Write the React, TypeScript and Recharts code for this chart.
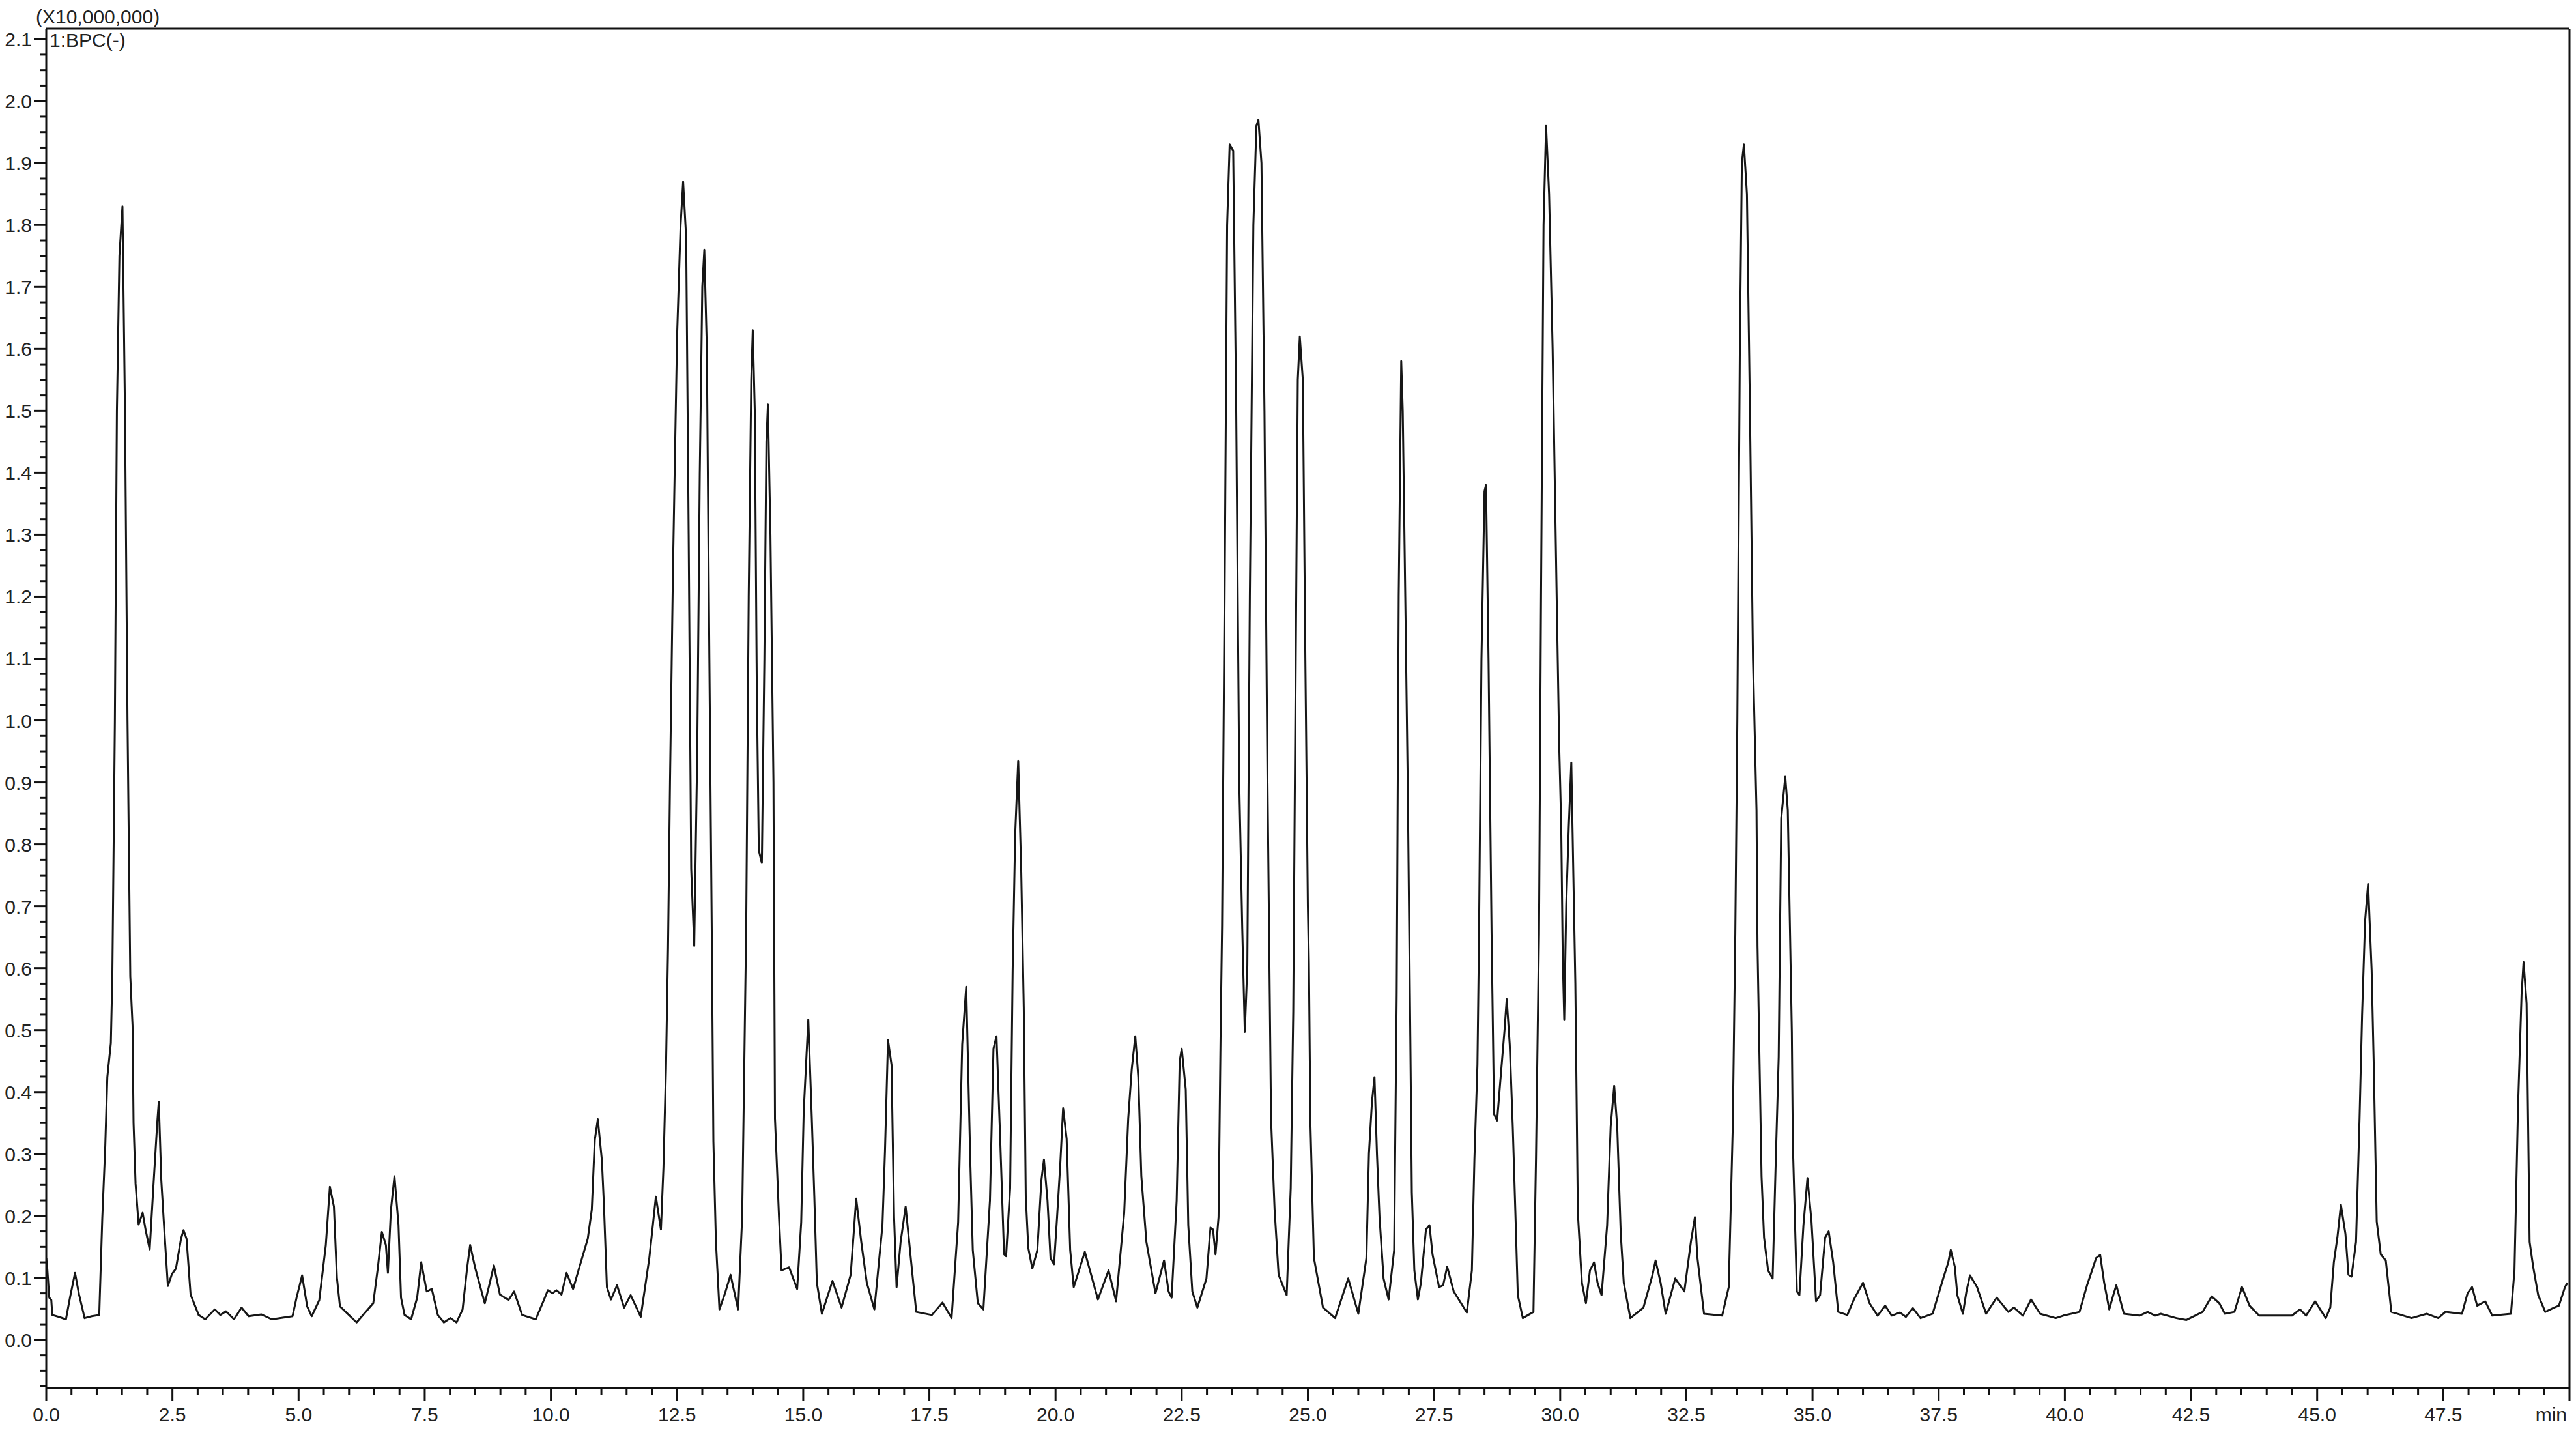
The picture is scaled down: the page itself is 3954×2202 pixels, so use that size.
import { LineChart, Line, XAxis, YAxis } from 'recharts'

// retention time (min) / BPC intensity (x10,000,000)
const SEG_0_5: [number, number][] = [
  [0.0, 0.132], [0.02, 0.115], [0.06, 0.068], [0.1, 0.064], [0.12, 0.04], [0.25, 0.037], [0.39, 0.033],
  [0.47, 0.068], [0.57, 0.108], [0.65, 0.073], [0.76, 0.035], [0.9, 0.038], [1.05, 0.04], [1.11, 0.196],
  [1.17, 0.314], [1.21, 0.424], [1.28, 0.479], [1.31, 0.59], [1.36, 1.0], [1.4, 1.5], [1.45, 1.75],
  [1.51, 1.83], [1.56, 1.5], [1.61, 1.0], [1.665, 0.587], [1.71, 0.507], [1.73, 0.35], [1.77, 0.252],
  [1.83, 0.186], [1.91, 0.205], [1.97, 0.177], [2.05, 0.146], [2.13, 0.257], [2.2, 0.351], [2.23, 0.384],
  [2.28, 0.257], [2.35, 0.163], [2.41, 0.087], [2.49, 0.106], [2.57, 0.115], [2.67, 0.163], [2.72, 0.177],
  [2.78, 0.163], [2.86, 0.073], [3.02, 0.04], [3.15, 0.033], [3.34, 0.049], [3.45, 0.04], [3.56, 0.046],
  [3.72, 0.033], [3.87, 0.052], [4.01, 0.038], [4.26, 0.041], [4.47, 0.033], [4.88, 0.038],
]

const SEG_5_12: [number, number][] = [
  [4.96, 0.068], [5.07, 0.104], [5.17, 0.054], [5.26, 0.038], [5.41, 0.064], [5.54, 0.153], [5.62, 0.247],
  [5.7, 0.215], [5.76, 0.1], [5.82, 0.054], [6.15, 0.028], [6.48, 0.059], [6.57, 0.116], [6.65, 0.174],
  [6.73, 0.153], [6.77, 0.108], [6.83, 0.21], [6.9, 0.264], [6.98, 0.186], [7.03, 0.068], [7.1, 0.04],
  [7.23, 0.033], [7.35, 0.068], [7.43, 0.125], [7.54, 0.078], [7.64, 0.082], [7.76, 0.04], [7.88, 0.028],
  [8.01, 0.035], [8.13, 0.028], [8.25, 0.049], [8.34, 0.116], [8.4, 0.153], [8.5, 0.116], [8.69, 0.059],
  [8.79, 0.092], [8.87, 0.12], [8.99, 0.073], [9.16, 0.064], [9.27, 0.078], [9.43, 0.04], [9.7, 0.033],
  [9.86, 0.064], [9.94, 0.08], [10.03, 0.075], [10.11, 0.08], [10.21, 0.073], [10.31, 0.108], [10.44, 0.082],
  [10.56, 0.116], [10.73, 0.163], [10.81, 0.21], [10.87, 0.323], [10.93, 0.356], [11.01, 0.29],
  [11.05, 0.219], [11.11, 0.085], [11.19, 0.065], [11.31, 0.088], [11.45, 0.052], [11.58, 0.072],
  [11.78, 0.037], [11.95, 0.132],
]

const SEG_12_19: [number, number][] = [
  [12.02, 0.185], [12.08, 0.231], [12.18, 0.178], [12.23, 0.278], [12.28, 0.437], [12.32, 0.63], [12.36, 0.9],
  [12.42, 1.25], [12.5, 1.62], [12.57, 1.8], [12.62, 1.87], [12.68, 1.78], [12.73, 1.3], [12.78, 0.76],
  [12.84, 0.636], [12.9, 0.95], [12.95, 1.4], [13.0, 1.7], [13.04, 1.76], [13.09, 1.6], [13.14, 1.1],
  [13.19, 0.636], [13.22, 0.32], [13.27, 0.158], [13.34, 0.049], [13.45, 0.075], [13.56, 0.105],
  [13.71, 0.049], [13.79, 0.198], [13.87, 0.669], [13.92, 1.2], [13.97, 1.55], [14.0, 1.63], [14.04, 1.5],
  [14.08, 1.05], [14.12, 0.79], [14.18, 0.77], [14.23, 1.1], [14.27, 1.45], [14.3, 1.51], [14.35, 1.3],
  [14.41, 0.9], [14.44, 0.357], [14.52, 0.198], [14.57, 0.112], [14.72, 0.117], [14.88, 0.082], [14.96, 0.19],
  [15.01, 0.37], [15.1, 0.517], [15.17, 0.357], [15.22, 0.231], [15.27, 0.092], [15.37, 0.042], [15.58, 0.095],
  [15.76, 0.052], [15.94, 0.105], [16.05, 0.228], [16.15, 0.158], [16.26, 0.092], [16.41, 0.049],
  [16.57, 0.185], [16.62, 0.304], [16.68, 0.484], [16.75, 0.444], [16.8, 0.198], [16.85, 0.085],
  [16.93, 0.158], [17.03, 0.215], [17.14, 0.125], [17.24, 0.045], [17.55, 0.04], [17.76, 0.06],
  [17.94, 0.035], [18.07, 0.19], [18.15, 0.477], [18.23, 0.57], [18.31, 0.29], [18.36, 0.145],
  [18.46, 0.059], [18.57, 0.049], [18.7, 0.225], [18.77, 0.47], [18.83, 0.49], [18.9, 0.331], [18.98, 0.138],
]

const SEG_19_27: [number, number][] = [
  [19.02, 0.135], [19.1, 0.245], [19.15, 0.596], [19.2, 0.816], [19.26, 0.935], [19.32, 0.756],
  [19.37, 0.537], [19.41, 0.231], [19.46, 0.148], [19.54, 0.115], [19.64, 0.145], [19.72, 0.258],
  [19.77, 0.291], [19.84, 0.225], [19.9, 0.132], [19.97, 0.122], [20.03, 0.198], [20.09, 0.278],
  [20.15, 0.374], [20.22, 0.324], [20.29, 0.145], [20.36, 0.085], [20.58, 0.142], [20.84, 0.065],
  [21.05, 0.112], [21.2, 0.062], [21.36, 0.205], [21.44, 0.357], [21.51, 0.437], [21.58, 0.49],
  [21.64, 0.424], [21.7, 0.264], [21.8, 0.158], [21.98, 0.075], [22.15, 0.128], [22.24, 0.078],
  [22.3, 0.068], [22.4, 0.225], [22.46, 0.45], [22.5, 0.47], [22.58, 0.404], [22.63, 0.185], [22.71, 0.078],
  [22.81, 0.052], [22.99, 0.099], [23.07, 0.181], [23.12, 0.178], [23.17, 0.138], [23.23, 0.198],
  [23.27, 0.49], [23.3, 0.669], [23.35, 1.2], [23.4, 1.8], [23.45, 1.93], [23.52, 1.92], [23.58, 1.5],
  [23.64, 0.9], [23.7, 0.663], [23.75, 0.497], [23.8, 0.603], [23.85, 1.2], [23.92, 1.8], [23.98, 1.96],
  [24.02, 1.97], [24.08, 1.9], [24.14, 1.5], [24.2, 0.9], [24.27, 0.357], [24.34, 0.211], [24.42, 0.105],
  [24.58, 0.072], [24.66, 0.245], [24.71, 0.53], [24.76, 1.1], [24.8, 1.55], [24.84, 1.62], [24.9, 1.55],
  [24.95, 1.1], [25.0, 0.7], [25.02, 0.61], [25.05, 0.35], [25.12, 0.132], [25.3, 0.052], [25.54, 0.035],
  [25.8, 0.099], [26.0, 0.042], [26.16, 0.132], [26.21, 0.301], [26.27, 0.384], [26.32, 0.424],
  [26.37, 0.298], [26.42, 0.198], [26.5, 0.099], [26.6, 0.065], [26.71, 0.145], [26.76, 0.557], [26.8, 1.2],
  [26.85, 1.58], [26.88, 1.5], [26.93, 1.2], [26.98, 0.889],
]

const SEG_27_35: [number, number][] = [
  [27.03, 0.49], [27.06, 0.238], [27.11, 0.112], [27.18, 0.065], [27.24, 0.092], [27.34, 0.178],
  [27.41, 0.185], [27.47, 0.138], [27.6, 0.085], [27.68, 0.088], [27.76, 0.118], [27.89, 0.078],
  [28.15, 0.044], [28.25, 0.112], [28.3, 0.291], [28.36, 0.444], [28.39, 0.643], [28.44, 1.1], [28.5, 1.37],
  [28.53, 1.38], [28.58, 1.1], [28.64, 0.656], [28.69, 0.364], [28.75, 0.354], [28.82, 0.424], [28.9, 0.503],
  [28.94, 0.55], [29.0, 0.477], [29.06, 0.344], [29.11, 0.211], [29.16, 0.072], [29.26, 0.035],
  [29.47, 0.045], [29.52, 0.291], [29.58, 0.656], [29.62, 1.2], [29.67, 1.8], [29.72, 1.96], [29.78, 1.85],
  [29.85, 1.6], [29.93, 1.2], [29.98, 0.96], [30.02, 0.83], [30.05, 0.62], [30.08, 0.517], [30.12, 0.703],
  [30.17, 0.829], [30.22, 0.932], [30.3, 0.576], [30.35, 0.205], [30.43, 0.092], [30.51, 0.059],
  [30.59, 0.112], [30.67, 0.125], [30.74, 0.092], [30.82, 0.072], [30.93, 0.185], [31.0, 0.344],
  [31.07, 0.41], [31.13, 0.344], [31.2, 0.171], [31.26, 0.092], [31.39, 0.035], [31.65, 0.052],
  [31.83, 0.105], [31.89, 0.128], [31.99, 0.092], [32.09, 0.042], [32.28, 0.099], [32.46, 0.078],
  [32.59, 0.158], [32.67, 0.198], [32.72, 0.132], [32.85, 0.042], [33.21, 0.039], [33.34, 0.085],
  [33.42, 0.344], [33.47, 0.656], [33.51, 1.0], [33.56, 1.6], [33.6, 1.9], [33.64, 1.93], [33.7, 1.85],
  [33.76, 1.5], [33.82, 1.1], [33.86, 0.96], [33.89, 0.855], [33.91, 0.636], [33.99, 0.264], [34.04, 0.165],
  [34.12, 0.112], [34.21, 0.099], [34.27, 0.284], [34.33, 0.457], [34.38, 0.842], [34.46, 0.909],
  [34.51, 0.855], [34.59, 0.497], [34.61, 0.318], [34.69, 0.078], [34.74, 0.072], [34.82, 0.185],
  [34.9, 0.261], [34.98, 0.191],
]

const SEG_35_43: [number, number][] = [
  [35.07, 0.062], [35.15, 0.072], [35.25, 0.165], [35.32, 0.175], [35.41, 0.125], [35.51, 0.045],
  [35.69, 0.04], [35.82, 0.065], [36.0, 0.092], [36.13, 0.059], [36.29, 0.039], [36.44, 0.055],
  [36.57, 0.039], [36.73, 0.044], [36.85, 0.037], [36.99, 0.051], [37.14, 0.035], [37.38, 0.042],
  [37.59, 0.099], [37.69, 0.125], [37.74, 0.145], [37.82, 0.118], [37.87, 0.072], [37.98, 0.042],
  [38.05, 0.078], [38.12, 0.104], [38.26, 0.085], [38.44, 0.042], [38.65, 0.068], [38.88, 0.045],
  [38.99, 0.052], [39.17, 0.039], [39.33, 0.065], [39.51, 0.042], [39.82, 0.035], [39.97, 0.039],
  [40.29, 0.045], [40.44, 0.088], [40.62, 0.132], [40.7, 0.137], [40.78, 0.092], [40.88, 0.049],
  [40.96, 0.072], [41.02, 0.088], [41.17, 0.042], [41.48, 0.039], [41.64, 0.045], [41.79, 0.039],
  [41.9, 0.042], [42.21, 0.035], [42.41, 0.032], [42.73, 0.045], [42.91, 0.07],
]

const SEG_43_50: [number, number][] = [
  [43.06, 0.059], [43.17, 0.042], [43.36, 0.045], [43.51, 0.085], [43.66, 0.055], [43.85, 0.039],
  [44.5, 0.039], [44.66, 0.049], [44.78, 0.039], [44.96, 0.062], [45.17, 0.035], [45.26, 0.052],
  [45.33, 0.125], [45.4, 0.165], [45.47, 0.218], [45.56, 0.171], [45.62, 0.105], [45.68, 0.102],
  [45.77, 0.158], [45.84, 0.357], [45.89, 0.523], [45.95, 0.676], [46.01, 0.736], [46.08, 0.596],
  [46.12, 0.45], [46.18, 0.191], [46.26, 0.138], [46.36, 0.128], [46.47, 0.045], [46.87, 0.035],
  [47.17, 0.042], [47.4, 0.035], [47.54, 0.045], [47.87, 0.042], [47.98, 0.075], [48.07, 0.085],
  [48.17, 0.055], [48.33, 0.062], [48.47, 0.039], [48.84, 0.042], [48.91, 0.112], [48.98, 0.377],
  [49.05, 0.557], [49.09, 0.61], [49.15, 0.543], [49.21, 0.158], [49.28, 0.118], [49.38, 0.072],
  [49.52, 0.045], [49.7, 0.052], [49.79, 0.055], [49.91, 0.085], [49.96, 0.092],
]

const X_TICKS = Array.from({ length: 101 }, (_, i) => i / 2) // every 0.5 min, labelled every 2.5
const Y_TICKS = Array.from({ length: 88 }, (_, i) => Math.round((i - 3) * 25) / 1000) // every 0.025, labelled every 0.1

const data = [...SEG_0_5, ...SEG_5_12, ...SEG_12_19, ...SEG_19_27, ...SEG_27_35, ...SEG_35_43, ...SEG_43_50]
  .map(([t, v]) => ({ t, v }))

const FONT = "'Liberation Sans', Arial, sans-serif"
const INK = '#111'

function TimeTick(props: any) {
  const { x, y, payload } = props
  const v = payload.value
  const major = Math.abs(v / 2.5 - Math.round(v / 2.5)) < 1e-6
  const last = v === 50
  return (
    <g>
      <line x1={x} x2={x} y1={y} y2={y + (major ? 20 : 11)} stroke={INK} strokeWidth={3} />
      {major && (
        <text x={last ? x - 4 : x} y={y + 51} textAnchor={last ? 'end' : 'middle'}
          fontFamily={FONT} fontSize={30} fill="#222">
          {last ? 'min' : v.toFixed(1)}
        </text>
      )}
    </g>
  )
}

function IntensityTick(props: any) {
  const { x, y, payload } = props
  const v = payload.value
  const major = Math.abs(v * 10 - Math.round(v * 10)) < 1e-6
  return (
    <g>
      <line x1={x - (major ? 19 : 9)} x2={x} y1={y} y2={y} stroke={INK} strokeWidth={3} />
      {major && (
        <text x={x - 22} y={y + 11} textAnchor="end" fontFamily={FONT} fontSize={30} fill="#222">
          {v.toFixed(1)}
        </text>
      )}
    </g>
  )
}

export default function App() {
  const axisLine = { stroke: INK, strokeWidth: 3 }
  return (
    <div style={{ position: 'absolute', left: 0, top: 0, width: 3954, height: 2202, background: '#fff' }}>
      <LineChart width={3954} height={2202} data={data} margin={{ top: 0, right: 0, bottom: 0, left: 0 }}>
        <XAxis xAxisId="bottom" dataKey="t" type="number" domain={[0, 50]} ticks={X_TICKS} interval={0}
          tick={<TimeTick />} tickLine={false} tickSize={0} tickMargin={0} height={72}
          axisLine={axisLine} allowDataOverflow />
        <XAxis xAxisId="top" orientation="top" type="number" domain={[0, 50]} height={44}
          tick={false} tickLine={false} axisLine={axisLine} allowDataOverflow />
        <YAxis yAxisId="left" type="number" domain={[-0.078, 2.117]} ticks={Y_TICKS} interval={0}
          tick={<IntensityTick />} tickLine={false} tickSize={0} tickMargin={0} width={71}
          axisLine={axisLine} allowDataOverflow />
        <YAxis yAxisId="right" orientation="right" type="number" domain={[0, 1]} width={10}
          tick={false} tickLine={false} axisLine={axisLine} allowDataOverflow />
        <Line xAxisId="bottom" yAxisId="left" type="linear" dataKey="v" stroke="#161616" strokeWidth={3}
          strokeLinejoin="round" dot={false} activeDot={false} isAnimationActive={false} />
      </LineChart>
      <svg width={3954} height={2202} style={{ position: 'absolute', left: 0, top: 0, pointerEvents: 'none' }}>
        <text x={55} y={36} fontFamily={FONT} fontSize={30} fill="#222">(X10,000,000)</text>
        <text x={76} y={72} fontFamily={FONT} fontSize={30} fill="#222">1:BPC(-)</text>
      </svg>
    </div>
  )
}
